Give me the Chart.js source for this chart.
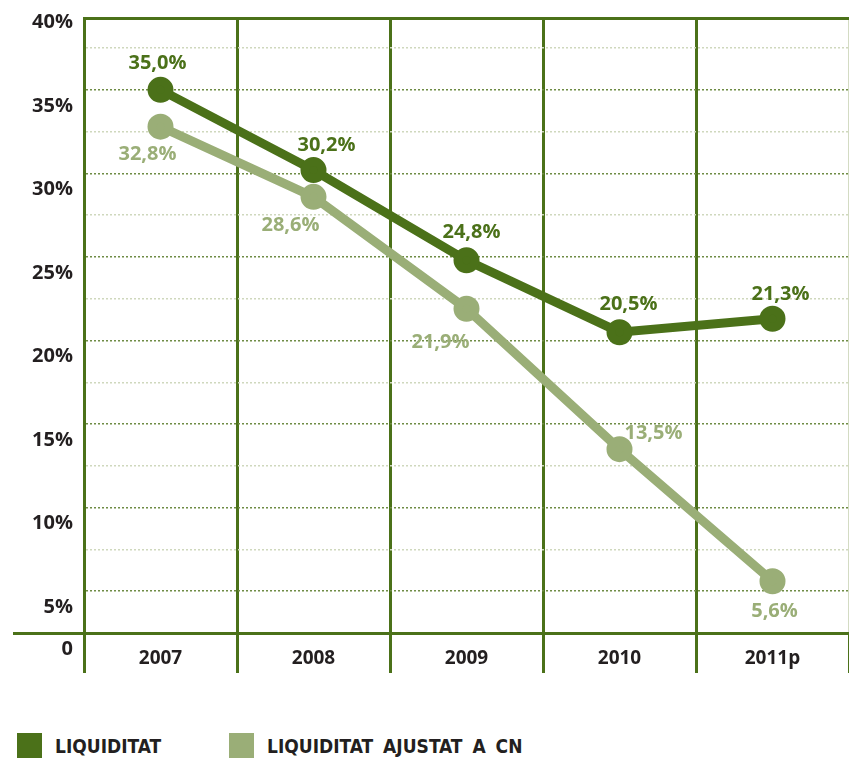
<!DOCTYPE html>
<html>
<head>
<meta charset="utf-8">
<script src="https://cdn.jsdelivr.net/npm/chart.js@4.4.1/dist/chart.umd.min.js"></script>
<style>
  body { margin: 0; background: #fff; overflow: hidden; }
  #wrap { position: relative; width: 849px; height: 700px; }
  #legend { position: absolute; top: 733px; left: 17px; display: flex; }
  .item { display: flex; align-items: center; height: 25px; }
  .item:first-child { width: 212px; }
  .box { width: 25px; height: 25px; margin-right: 13px; }
  .txt { font-family: "Liberation Sans Narrow", "DejaVu Sans Condensed", sans-serif; font-weight: bold; font-size: 19px; word-spacing: 4px; color: #231f20; }
</style>
</head>
<body>
<div id="wrap"><canvas id="liquidity"></canvas></div>
<div id="legend"></div>
<script>
const years = ['2007', '2008', '2009', '2010', '2011p'];
const liquiditat = [35.0, 30.2, 24.8, 20.5, 21.3];
const liquiditatAjustat = [32.8, 28.6, 21.9, 13.5, 5.6];
const seriesNames = ['LIQUIDITAT', 'LIQUIDITAT AJUSTAT A CN'];
const yGridValues = [2.5, 5, 7.5, 10, 12.5, 15, 17.5, 20, 22.5, 25, 27.5, 30, 32.5, 35, 37.5];
const yLabelValues = [5, 10, 15, 20, 25, 30, 35, 40];

const Y_MIN = 2.5;
const Y_MAX = 39.3;
const DARK = '#4b7119';
const LIGHT = '#9aae77';
const INK = '#231f20';

// where each value label sits relative to its point
const darkOffsets = [[-3, -27], [13, -25], [5, -28], [9, -28], [8, -25]];
const lightOffsets = [[-13, 28], [-23, 28], [-26, 34], [34, -16], [2, 30]];

const pointLabels = {
    id: 'pointLabels',
    afterDatasetsDraw(chart) {
        const ctx = chart.ctx;
        chart.data.datasets.forEach((ds, i) => {
            const meta = chart.getDatasetMeta(i);
            ctx.save();
            ctx.font = 'bold 20px "Open Sans"';
            ctx.fillStyle = ds.borderColor;
            ctx.textAlign = 'center';
            ctx.textBaseline = 'middle';
            meta.data.forEach((pt, j) => {
                const [dx, dy] = ds.labelOffsets[j];
                ctx.fillText(ds.data[j].toFixed(1).replace('.', ',') + '%', pt.x + dx, pt.y + dy);
            });
            ctx.restore();
        });
    }
};

const isFrame = v => v === Y_MIN || v === Y_MAX;

const ctx = document.getElementById('liquidity').getContext('2d');
new Chart(ctx, {
    type: 'line',
    data: {
        labels: years,
        datasets: [
            {
                label: seriesNames[0],
                data: liquiditat,
                borderColor: DARK,
                backgroundColor: DARK,
                pointBackgroundColor: DARK,
                borderWidth: 9,
                pointRadius: 8.5,
                labelOffsets: darkOffsets
            },
            {
                label: seriesNames[1],
                data: liquiditatAjustat,
                borderColor: LIGHT,
                backgroundColor: LIGHT,
                pointBackgroundColor: LIGHT,
                borderWidth: 9,
                pointRadius: 8.5,
                labelOffsets: lightOffsets
            }
        ]
    },
    options: {
        responsive: true,
        maintainAspectRatio: false,
        animation: false,
        layout: { autoPadding: false, padding: { top: 18, left: 0, right: 0, bottom: 0 } },
        plugins: {
            legend: { display: false },
            tooltip: { enabled: false }
        },
        scales: {
            x: {
                offset: true,
                grid: {
                    offset: true,
                    color: (c) => c.tick ? DARK : '#d3dbc3',
                    lineWidth: 3,
                    tickLength: 40,
                    tickColor: DARK,
                    tickWidth: 3
                },
                border: { color: DARK, width: 3 },
                ticks: {
                    color: INK,
                    font: { family: 'Open Sans', weight: 'bold', size: 19 },
                    padding: -26,
                    maxRotation: 0,
                    autoSkip: false
                },
                afterFit: (scale) => {
                    scale.height = 67;
                    scale.paddingLeft = 0;
                    scale.paddingRight = 0;
                }
            },
            y: {
                min: Y_MIN,
                max: Y_MAX,
                afterBuildTicks: (axis) => {
                    axis.ticks = [...yGridValues, Y_MAX, 40].map(v => ({ value: v }));
                },
                afterFit: (scale) => {
                    scale.width = 84;
                    scale.paddingTop = 0;
                    scale.paddingBottom = 0;
                },
                grid: {
                    color: (c) => {
                        const v = c.tick.value;
                        if (v > Y_MAX) return 'rgba(0,0,0,0)';
                        if (isFrame(v)) return DARK;
                        return v % 5 === 0 ? '#6f8c45' : '#cfd8bd';
                    },
                    lineWidth: (c) => isFrame(c.tick.value) ? 3 : 1.5,
                    tickLength: 71,
                    tickWidth: 3,
                    tickColor: (c) => c.tick.value === Y_MIN ? DARK : 'rgba(0,0,0,0)'
                },
                border: {
                    color: DARK,
                    width: 3,
                    dash: (c) => (c.tick && !isFrame(c.tick.value)) ? [2, 2] : []
                },
                ticks: {
                    color: INK,
                    font: { family: 'Open Sans', weight: 'bold', size: 20 },
                    padding: -60,
                    labelOffset: 16,
                    autoSkip: false,
                    callback: (value) => {
                        if (value === Y_MIN) return '0';
                        return yLabelValues.includes(value) ? value + '%' : '';
                    }
                }
            }
        }
    },
    plugins: [pointLabels]
});

const legendEl = document.getElementById('legend');
[DARK, LIGHT].forEach((color, i) => {
    const item = document.createElement('div');
    item.className = 'item';
    item.innerHTML = `<span class="box" style="background:${color}"></span><span class="txt">${seriesNames[i]}</span>`;
    legendEl.appendChild(item);
});
</script>
</body>
</html>
